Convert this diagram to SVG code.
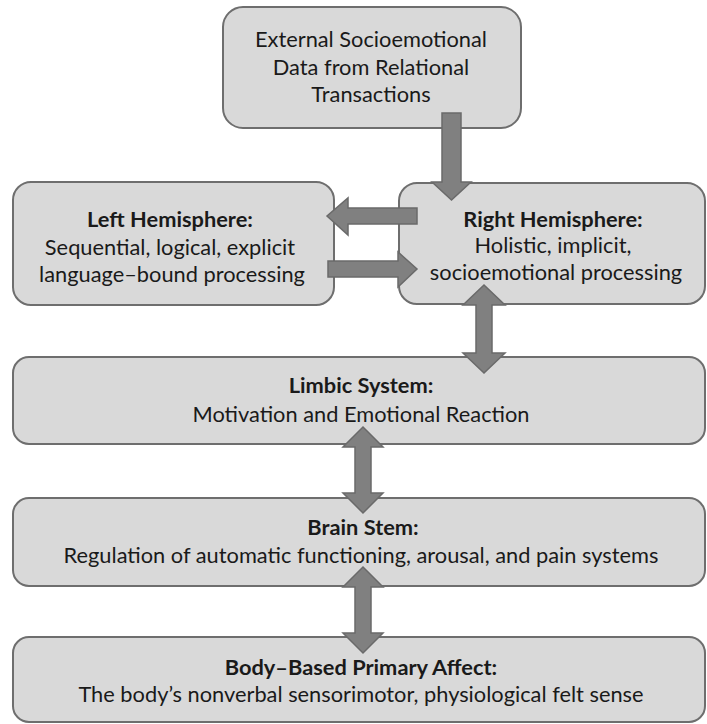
<svg xmlns="http://www.w3.org/2000/svg" width="707" height="724" viewBox="0 0 707 724">
<style>
.box{fill:#d9d9d9;stroke:#6e6e6e;stroke-width:2}
.arr{fill:#808080;stroke:#6a6a6a;stroke-width:1.5;stroke-linejoin:miter}
text{font-family:Lato,"Open Sans","Liberation Sans",sans-serif;font-size:21.8px;fill:#1a1a1a;text-anchor:middle}
.b{font-weight:bold}
</style>
<rect width="707" height="724" fill="#ffffff"/>
<g id="n-external">
<rect class="box" x="223" y="7" width="298" height="121" rx="20"/>
<text x="371" y="47">External Socioemotional</text>
<text x="371" y="75">Data from Relational</text>
<text x="371" y="102">Transactions</text>
</g>
<g id="n-left">
<rect class="box" x="13" y="182" width="321" height="123" rx="18"/>
<text class="b" x="170" y="227">Left Hemisphere:</text>
<text x="170" y="255">Sequential, logical, explicit</text>
<text x="172" y="282">language–bound processing</text>
</g>
<g id="n-right">
<rect class="box" x="399" y="183" width="306" height="121" rx="18"/>
<text class="b" x="553" y="227">Right Hemisphere:</text>
<text x="553" y="253">Holistic, implicit,</text>
<text x="556" y="280">socioemotional processing</text>
</g>
<g id="n-limbic">
<rect class="box" x="13" y="357" width="692" height="87" rx="16"/>
<text class="b" x="361" y="393">Limbic System:</text>
<text x="361" y="422">Motivation and Emotional Reaction</text>
</g>
<g id="n-brainstem">
<rect class="box" x="13" y="498" width="692" height="88" rx="16"/>
<text class="b" x="363" y="535">Brain Stem:</text>
<text x="361" y="563">Regulation of automatic functioning, arousal, and pain systems</text>
</g>
<g id="n-body">
<rect class="box" x="13" y="637" width="692" height="85" rx="16"/>
<text class="b" x="361" y="675">Body–Based Primary Affect:</text>
<text x="361" y="702">The body’s nonverbal sensorimotor, physiological felt sense</text>
</g>
<g id="connectors">
<polygon class="arr" points="442,113 461,113 461,182 471,182 451.5,200 432,182 442,182"/>
<polygon class="arr" points="417,208 348,208 348,198 327,216 348,235 348,224 417,224"/>
<polygon class="arr" points="328,261 398,261 398,252 417,269 398,287 398,277 328,277"/>
<polygon class="arr" points="484,285 505,305 492,305 492,353 505,353 484,373 463,353 476,353 476,305 463,305"/>
<polygon class="arr" points="363,427 383,447 371,447 371,493 383,493 363,513 343,493 355,493 355,447 343,447"/>
<polygon class="arr" points="363,567 383,587 371,587 371,633 383,633 363,653 343,633 355,633 355,587 343,587"/>
</g>
</svg>
